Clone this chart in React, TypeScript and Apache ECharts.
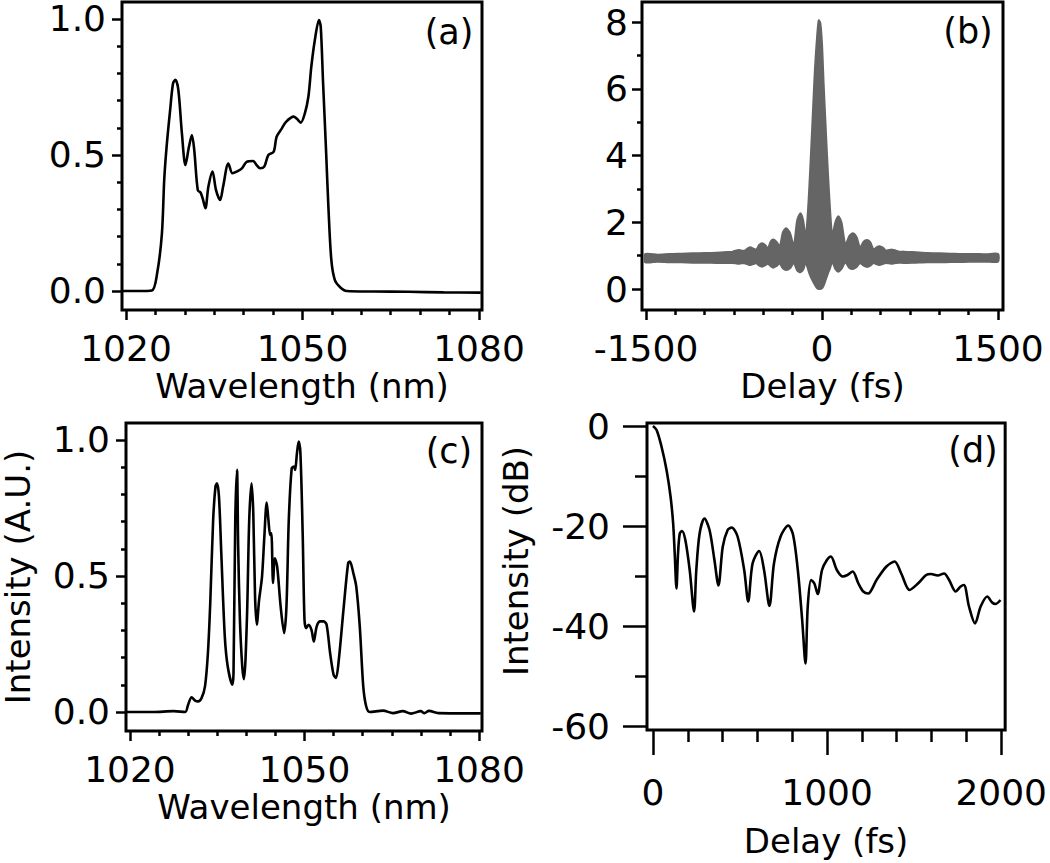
import React, { useEffect, useRef } from "react";
import * as echarts from "echarts";

// ---------- (a) input spectrum ----------
const specA_wl = [1019.4, 1022.0, 1024.4, 1025.3, 1026.1, 1026.5, 1026.9, 1027.5, 1028.0, 1028.4, 1028.9, 1029.5, 1030.1, 1030.7, 1031.2, 1031.6, 1032.2, 1032.7, 1033.1, 1033.5, 1034.0, 1034.7, 1035.3, 1036.0, 1036.5, 1037.4, 1038.1, 1038.8, 1039.7, 1040.5, 1041.6, 1042.2, 1042.8, 1043.5, 1044.2, 1045.1, 1045.6, 1046.5, 1047.2, 1048.5, 1049.0, 1049.7, 1050.4, 1051.0, 1051.5, 1052.1, 1052.8, 1053.1, 1053.5, 1054.0, 1054.4, 1054.9, 1055.5, 1056.4, 1057.5, 1062.0, 1068.0, 1074.0, 1080.3];
const specA_int = [0.0, 0.0, 0.002, 0.066, 0.21, 0.41, 0.53, 0.665, 0.764, 0.776, 0.739, 0.58, 0.463, 0.53, 0.573, 0.518, 0.371, 0.361, 0.335, 0.304, 0.383, 0.439, 0.371, 0.335, 0.383, 0.469, 0.433, 0.439, 0.451, 0.475, 0.478, 0.463, 0.451, 0.457, 0.5, 0.512, 0.567, 0.598, 0.622, 0.641, 0.634, 0.619, 0.653, 0.714, 0.825, 0.923, 0.996, 0.972, 0.764, 0.518, 0.31, 0.114, 0.04, 0.014, 0.0, -0.002, -0.003, -0.005, -0.006];

// ---------- (c) shaped spectrum ----------
const specC_wl = [1019.4, 1024.0, 1027.5, 1029.5, 1030.0, 1030.6, 1031.2, 1031.7, 1032.3, 1032.9, 1033.4, 1033.8, 1034.3, 1034.7, 1034.96, 1035.3, 1035.7, 1036.3, 1036.8, 1037.6, 1037.8, 1038.1, 1038.4, 1038.6, 1038.9, 1039.3, 1039.6, 1040.1, 1040.5, 1040.9, 1041.2, 1041.5, 1041.8, 1042.2, 1042.7, 1043.1, 1043.5, 1043.8, 1044.1, 1044.3, 1044.6, 1044.9, 1045.3, 1045.9, 1046.5, 1046.9, 1047.3, 1047.8, 1048.2, 1048.4, 1048.7, 1049.0, 1049.3, 1049.7, 1050.0, 1050.3, 1050.7, 1051.2, 1051.6, 1052.1, 1052.7, 1053.3, 1053.8, 1054.4, 1055.0, 1055.4, 1055.9, 1056.7, 1057.5, 1057.8, 1058.4, 1058.9, 1059.5, 1060.1, 1060.6, 1061.2, 1063.5, 1065.2, 1066.9, 1068.3, 1070.0, 1070.6, 1071.4, 1073.0, 1080.3];
const specC_int = [0.0, 0.0, 0.003, 0.0, 0.027, 0.054, 0.042, 0.039, 0.051, 0.094, 0.217, 0.4, 0.706, 0.829, 0.841, 0.792, 0.584, 0.278, 0.168, 0.1, 0.143, 0.706, 0.89, 0.608, 0.339, 0.168, 0.121, 0.339, 0.706, 0.841, 0.73, 0.425, 0.321, 0.412, 0.498, 0.645, 0.77, 0.706, 0.651, 0.657, 0.474, 0.565, 0.535, 0.388, 0.29, 0.388, 0.706, 0.896, 0.902, 0.89, 0.951, 0.994, 0.951, 0.645, 0.339, 0.308, 0.321, 0.302, 0.259, 0.315, 0.333, 0.333, 0.321, 0.217, 0.137, 0.125, 0.192, 0.376, 0.547, 0.553, 0.51, 0.461, 0.315, 0.094, 0.021, 0.0, 0.005, -0.004, 0.003, -0.006, 0.003, -0.004, 0.004, -0.004, -0.005];

// ---------- (b) interferometric autocorrelation: upper / lower edges of the fringe band ----------
const acDelay = [
  -1505, -1400, -1300, -1200, -1100, -1000, -900, -800, -760, -735,
  -710, -685, -660, -635, -610, -585, -560, -535, -510, -485,
  -460, -437, -413, -387, -360, -333, -306, -273, -240, -212,
  -184, -160, -140, -128, -115, -100, -80, -60, -43, -28,
  -14, 0, 14, 34, 51, 71, 88, 114, 140, 166,
  200, 232, 265, 295, 325, 355, 385, 412, 440, 465,
  490, 518, 545, 572, 600, 630, 660, 700, 800, 900,
  1000, 1100, 1200, 1300, 1400, 1500,
];
const acUpper = [
  1.05, 1.03, 1.05, 1.06, 1.07, 1.08, 1.09, 1.11, 1.12, 1.15,
  1.17, 1.15, 1.15, 1.21, 1.25, 1.21, 1.18, 1.32, 1.37, 1.32,
  1.22, 1.42, 1.48, 1.41, 1.28, 1.70, 1.82, 1.68, 1.30, 2.05,
  2.27, 2.05, 1.55, 1.9, 2.6, 3.6, 5.1, 6.6, 7.5, 8.05,
  7.97, 7.37, 6.17, 4.67, 3.47, 2.27, 1.60, 2.00, 2.18, 2.0,
  1.32, 1.58, 1.67, 1.55, 1.24, 1.42, 1.47, 1.40, 1.18, 1.25,
  1.28, 1.24, 1.15, 1.17, 1.18, 1.15, 1.12, 1.12, 1.10, 1.08,
  1.07, 1.06, 1.05, 1.05, 1.04, 1.05,
];
const acLower = [
  0.80, 0.82, 0.80, 0.80, 0.79, 0.79, 0.78, 0.78, 0.78, 0.77,
  0.76, 0.77, 0.77, 0.74, 0.72, 0.75, 0.77, 0.70, 0.67, 0.71,
  0.76, 0.68, 0.64, 0.69, 0.76, 0.62, 0.57, 0.62, 0.78, 0.56,
  0.50, 0.58, 0.80, 0.70, 0.55, 0.40, 0.25, 0.12, 0.03, 0.0,
  0.0, 0.02, 0.10, 0.30, 0.47, 0.65, 0.82, 0.60, 0.52, 0.60,
  0.80, 0.64, 0.60, 0.66, 0.78, 0.70, 0.66, 0.70, 0.78, 0.74,
  0.72, 0.75, 0.78, 0.77, 0.76, 0.78, 0.79, 0.78, 0.79, 0.80,
  0.80, 0.81, 0.81, 0.82, 0.82, 0.82,
];

// ---------- (d) retrieved temporal intensity (dB) ----------
const dbDelay = [0, 21, 49, 78, 101, 116, 125, 135, 144, 154, 167, 186, 211, 236, 249, 268, 296, 325, 353, 376, 401, 429, 452, 486, 524, 547, 572, 610, 638, 669, 695, 733, 777, 805, 832, 857, 876, 889, 908, 927, 946, 971, 999, 1022, 1056, 1090, 1117, 1147, 1180, 1208, 1236, 1284, 1341, 1388, 1426, 1474, 1522, 1569, 1597, 1635, 1672, 1701, 1739, 1767, 1786, 1815, 1850, 1882, 1920, 1948, 1967, 1996];
const dbInt = [0, -0.8, -4.1, -8.8, -14.1, -19.5, -25.5, -32.5, -25.5, -21.5, -21.0, -22.8, -28.8, -37.1, -28.8, -21.5, -18.5, -20.8, -26.8, -31.9, -24.1, -20.8, -20.3, -22.1, -28.8, -35.1, -27.5, -25.0, -28.8, -36.0, -27.5, -22.1, -19.9, -21.8, -28.8, -38.8, -47.5, -36.1, -30.8, -31.5, -33.6, -28.8, -26.8, -26.1, -28.8, -30.1, -29.8, -29.1, -31.5, -33.1, -33.5, -30.8, -28.1, -27.1, -29.5, -32.8, -31.5, -29.8, -29.6, -29.9, -29.5, -30.8, -33.1, -32.1, -31.8, -36.1, -39.5, -36.1, -34.1, -35.3, -35.6, -34.8];

// ---------- tick values ----------
const wlMajor = [1020, 1050, 1080];
const wlMinor = [1025, 1030, 1035, 1040, 1045, 1055, 1060, 1065, 1070, 1075];
const normMajor = [0, 0.5, 1.0];
const normMinor = [0.1, 0.2, 0.3, 0.4, 0.6, 0.7, 0.8, 0.9];
const acDelayMajor = [-1500, 0, 1500];
const acDelayMinor = [-1250, -1000, -750, -500, -250, 250, 500, 750, 1000, 1250];
const acMajor = [0, 2, 4, 6, 8];
const acMinor = [1, 3, 5, 7];
const dDelayMajor = [0, 1000, 2000];
const dDelayMinor = [200, 400, 600, 800, 1200, 1400, 1600, 1800];
const dbMajor = [0, -20, -40, -60];
const dbMinor = [-10, -30, -50];

const FONT = '"DejaVu Sans", sans-serif';
const TICK_FS = 36;
const NAME_FS = 34;
const tickLine = { color: "#000", width: 2.5 };
const nameStyle = { fontSize: NAME_FS, fontFamily: FONT, color: "#000", lineHeight: 28 };

function xPair(grid: number, min: number, max: number, major: number[], minor: number[], majLen: number, minLen: number, margin: number, name: string, nameGap: number) {
  const common = { type: "value", gridIndex: grid, min, max, position: "bottom", axisLine: { show: false, onZero: false }, splitLine: { show: false } };
  return [
    {
      ...common,
      axisTick: { show: true, inside: false, customValues: major, length: majLen, lineStyle: tickLine },
      axisLabel: { show: true, customValues: major, margin, fontSize: TICK_FS, fontFamily: FONT, color: "#000", lineHeight: 30, formatter: (v: number) => String(v) },
      name, nameLocation: "middle", nameGap, nameTextStyle: nameStyle,
    },
    {
      ...common,
      axisTick: { show: true, inside: false, customValues: minor, length: minLen, lineStyle: tickLine },
      axisLabel: { show: false },
    },
  ];
}

function yPair(grid: number, min: number, max: number, major: number[], minor: number[], majLen: number, minLen: number, margin: number, fmt: (v: number) => string, name?: string, nameGap?: number) {
  const common = { type: "value", gridIndex: grid, min, max, position: "left", axisLine: { show: false, onZero: false }, splitLine: { show: false } };
  const main: any = {
    ...common,
    axisTick: { show: true, inside: false, customValues: major, length: majLen, lineStyle: tickLine },
    axisLabel: { show: true, customValues: major, margin, fontSize: TICK_FS, fontFamily: FONT, color: "#000", lineHeight: 30, formatter: fmt },
  };
  if (name) {
    main.name = name;
    main.nameLocation = "middle";
    main.nameGap = nameGap;
    main.nameTextStyle = nameStyle;
  }
  return [
    main,
    {
      ...common,
      axisTick: { show: true, inside: false, customValues: minor, length: minLen, lineStyle: tickLine },
      axisLabel: { show: false },
    },
  ];
}

const gridBase = { show: true, borderColor: "#000", borderWidth: 3, backgroundColor: "transparent", containLabel: false };

function panelLabel(text: string, x: number, y: number) {
  return { type: "text", x, y, style: { text, fontSize: 35, fontFamily: FONT, fill: "#000", align: "center", verticalAlign: "middle" } };
}

function buildOption(): any {
  const lineStyle = { color: "#000", width: 2.6 };
  return {
    animation: false,
    backgroundColor: "#fff",
    grid: [
      { ...gridBase, left: 122, top: 2, width: 360, height: 308 },
      { ...gridBase, left: 642, top: 2, width: 361, height: 308 },
      { ...gridBase, left: 122, top: 423, width: 360, height: 308 },
      { ...gridBase, left: 647, top: 423, width: 361, height: 307 },
    ],
    xAxis: [
      ...xPair(0, 1019.32, 1080.51, wlMajor, wlMinor, 10, 5, 23, "Wavelength (nm)", 62),
      ...xPair(1, -1534, 1543, acDelayMajor, acDelayMinor, 10, 5, 23, "Delay (fs)", 62),
      ...xPair(2, 1019.32, 1080.51, wlMajor, wlMinor, 10, 5, 23, "Wavelength (nm)", 62),
      ...xPair(3, -34.2, 2022.8, dDelayMajor, dDelayMinor, 25, 12, 47, "Delay (fs)", 97),
    ],
    yAxis: [
      ...yPair(0, -0.0699, 1.0625, normMajor, normMinor, 10, 5, 16, (v) => v.toFixed(1)),
      ...yPair(1, -0.629, 8.6, acMajor, acMinor, 10, 5, 14, (v) => String(v)),
      ...yPair(2, -0.0699, 1.0625, normMajor, normMinor, 10, 5, 16, (v) => v.toFixed(1), "Intensity (A.U.)", 94),
      ...yPair(3, -60.8, 0.6, dbMajor, dbMinor, 24, 12, 37, (v) => String(v)),
    ],
    series: [
      {
        type: "line", xAxisIndex: 0, yAxisIndex: 0, showSymbol: false, smooth: 0.3, lineStyle,
        data: specA_wl.map((w, i) => [w, specA_int[i]]),
      },
      {
        type: "custom", xAxisIndex: 2, yAxisIndex: 2, coordinateSystem: "cartesian2d", silent: true,
        data: [[acDelay[0], acUpper[0]]],
        renderItem: (_params: any, api: any) => {
          const top = acDelay.map((t, i) => api.coord([t, acUpper[i]]));
          const bot = acDelay.map((t, i) => api.coord([t, acLower[i]])).reverse();
          return { type: "polygon", shape: { points: top.concat(bot), smooth: 0.25 }, style: { fill: "#656565", stroke: "#656565", lineWidth: 2 } };
        },
      },
      {
        type: "line", xAxisIndex: 4, yAxisIndex: 4, showSymbol: false, smooth: 0.3, lineStyle,
        data: specC_wl.map((w, i) => [w, specC_int[i]]),
      },
      {
        type: "line", xAxisIndex: 6, yAxisIndex: 6, showSymbol: false, smooth: 0.3, lineStyle,
        data: dbDelay.map((t, i) => [t, dbInt[i]]),
      },
    ],
    graphic: [
      panelLabel("(a)", 449, 32),
      panelLabel("(b)", 968, 31),
      panelLabel("(c)", 449, 451),
      panelLabel("(d)", 973, 450),
      { type: "text", x: 516, y: 561, rotation: Math.PI / 2, style: { text: "Intensity (dB)", fontSize: NAME_FS, fontFamily: FONT, fill: "#000", align: "center", verticalAlign: "middle" } },
    ],
  };
}

export default function App() {
  const ref = useRef<HTMLDivElement>(null);
  useEffect(() => {
    if (!ref.current) return;
    const chart = echarts.init(ref.current, null, { renderer: "svg" });
    chart.setOption(buildOption());
    return () => chart.dispose();
  }, []);
  return <div ref={ref} style={{ position: "absolute", left: 0, top: 0, width: 1050, height: 863, background: "#fff" }} />;
}
